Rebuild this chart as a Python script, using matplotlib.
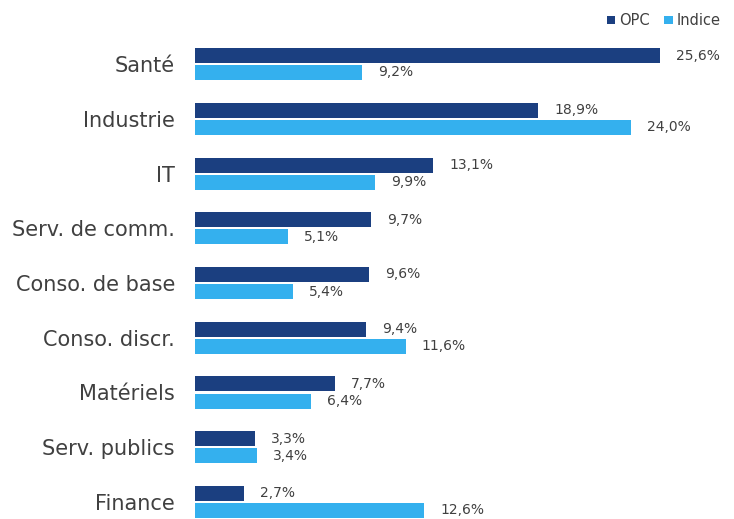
import matplotlib
matplotlib.use("Agg")
import matplotlib.pyplot as plt
import numpy as np

categories = ["Santé", "Industrie", "IT", "Serv. de comm.", "Conso. de base",
              "Conso. discr.", "Matériels", "Serv. publics", "Finance"]
opc = [25.6, 18.9, 13.1, 9.7, 9.6, 9.4, 7.7, 3.3, 2.7]
indice = [9.2, 24.0, 9.9, 5.1, 5.4, 11.6, 6.4, 3.4, 12.6]
series_names = ["OPC", "Indice"]

c_opc = "#1B3F80"
c_ind = "#34B0EE"
txt = "#404040"

plt.rcParams['font.family'] = ['DejaVu Sans']
fig = plt.figure(figsize=(7.34, 5.19), dpi=100)
ax = fig.add_axes([195/734, 0, (720-195)/734, 1 - 40/519])

y = np.arange(len(categories))
h = 15/54.75
off = 8.5/54.75
b1 = ax.barh(y - off, opc, height=h, color=c_opc, label=series_names[0])
b2 = ax.barh(y + off, indice, height=h, color=c_ind, label=series_names[1])

for vals, yy in ((opc, y - off), (indice, y + off)):
    for v, yi in zip(vals, yy):
        ax.annotate(f"{v:.1f}".replace(".", ",") + "%", (v, yi), xytext=(16, 0),
                    textcoords="offset pixels",
                    va="center", ha="left", fontsize=10, color=txt)

ax.set_xlim(0, (720-195)/18.17)
ax.set_ylim((519-64)/54.75, (40-64)/54.75)
ax.set_yticks(y)
ax.set_yticklabels(categories, fontsize=15, color=txt)
ax.tick_params(axis='y', length=0, pad=14.4)
ax.set_xticks([])
for s in ax.spines.values():
    s.set_visible(False)

fig.legend(handles=[b1, b2], loc="upper right", bbox_to_anchor=(1.0, 1.0),
           ncol=2, frameon=False, fontsize=10.5, handlelength=0.55, handleheight=0.55,
           handletextpad=0.3, columnspacing=1.0, labelcolor=txt)

fig.savefig("out.png", dpi=100)
